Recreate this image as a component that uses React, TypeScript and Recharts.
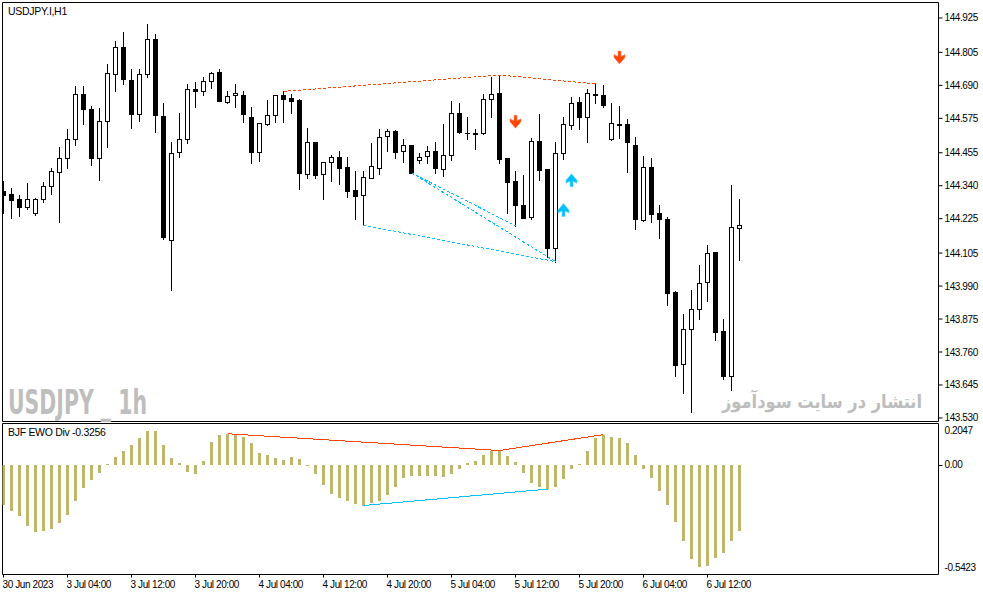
import React from 'react';
import { ComposedChart, Bar, Line, Scatter, XAxis, YAxis, ReferenceArea } from 'recharts';

// hourly bars, index 0 = 30 Jun 2023 20:00
const timeTicks = [0, 8, 16, 24, 32, 40, 48, 56, 64, 72, 80, 88];
const timeLabels = [
  '30 Jun 2023', '3 Jul 04:00', '3 Jul 12:00', '3 Jul 20:00', '4 Jul 04:00', '4 Jul 12:00',
  '4 Jul 20:00', '5 Jul 04:00', '5 Jul 12:00', '5 Jul 20:00', '6 Jul 04:00', '6 Jul 12:00',
];

const opens = [
  144.323, 144.311, 144.294, 144.267, 144.246, 144.294, 144.338, 144.388, 144.436, 144.502,
  144.659, 144.607, 144.436, 144.565, 144.729, 144.823, 144.709, 144.589, 144.729, 144.851,
  144.583, 144.150, 144.457, 144.502, 144.676, 144.671, 144.704, 144.736, 144.631, 144.655,
  144.655, 144.579, 144.457, 144.554, 144.586, 144.655, 144.646, 144.639, 144.382, 144.491,
  144.382, 144.422, 144.439, 144.404, 144.325, 144.309, 144.368, 144.403, 144.512, 144.530,
  144.460, 144.481, 144.429, 144.443, 144.460, 144.399, 144.446, 144.593, 144.524, 144.524,
  144.523, 144.641, 144.662, 144.436, 144.356, 144.273, 144.232, 144.495, 144.398, 144.124,
  144.453, 144.551, 144.631, 144.579, 144.659, 144.655, 144.502, 144.554, 144.554, 144.481,
  144.222, 144.404, 144.244, 144.225, 143.970, 143.717, 143.839, 143.909, 144.003, 144.108,
  143.833, 143.677, 144.192,
];
const highs = [
  144.357, 144.332, 144.307, 144.349, 144.296, 144.352, 144.402, 144.475, 144.538, 144.688,
  144.688, 144.619, 144.610, 144.764, 144.845, 144.877, 144.747, 144.747, 144.904, 144.869,
  144.627, 144.492, 144.594, 144.694, 144.702, 144.719, 144.738, 144.747, 144.670, 144.695,
  144.670, 144.613, 144.560, 144.639, 144.657, 144.669, 144.660, 144.641, 144.541, 144.493,
  144.424, 144.447, 144.461, 144.439, 144.391, 144.391, 144.489, 144.538, 144.538, 144.534,
  144.503, 144.483, 144.454, 144.479, 144.492, 144.555, 144.635, 144.628, 144.579, 144.538,
  144.660, 144.719, 144.726, 144.438, 144.391, 144.377, 144.505, 144.590, 144.400, 144.492,
  144.580, 144.649, 144.649, 144.677, 144.695, 144.691, 144.627, 144.617, 144.572, 144.509,
  144.444, 144.436, 144.272, 144.232, 143.972, 143.892, 143.975, 144.064, 144.133, 144.110,
  143.876, 144.341, 144.293,
];
const lows = [
  144.244, 144.228, 144.235, 144.258, 144.239, 144.282, 144.310, 144.215, 144.403, 144.483,
  144.554, 144.413, 144.361, 144.476, 144.671, 144.695, 144.540, 144.567, 144.718, 144.528,
  144.153, 143.977, 144.441, 144.490, 144.616, 144.655, 144.682, 144.635, 144.629, 144.616,
  144.563, 144.418, 144.427, 144.552, 144.563, 144.563, 144.595, 144.330, 144.368, 144.368,
  144.295, 144.358, 144.347, 144.302, 144.225, 144.202, 144.366, 144.382, 144.461, 144.438,
  144.424, 144.383, 144.420, 144.420, 144.385, 144.375, 144.431, 144.523, 144.504, 144.469,
  144.519, 144.581, 144.420, 144.246, 144.200, 144.226, 144.225, 144.361, 144.092, 144.075,
  144.434, 144.539, 144.539, 144.494, 144.630, 144.613, 144.500, 144.507, 144.389, 144.190,
  144.218, 144.215, 144.159, 143.923, 143.677, 143.618, 143.552, 143.874, 143.939, 143.802,
  143.667, 143.629, 144.081,
];
const closes = [
  144.307, 144.289, 144.267, 144.294, 144.294, 144.338, 144.391, 144.436, 144.502, 144.659,
  144.607, 144.436, 144.565, 144.732, 144.823, 144.711, 144.589, 144.729, 144.851, 144.587,
  144.162, 144.453, 144.502, 144.676, 144.669, 144.706, 144.732, 144.637, 144.653, 144.662,
  144.589, 144.457, 144.558, 144.586, 144.655, 144.643, 144.637, 144.385, 144.491, 144.378,
  144.422, 144.439, 144.403, 144.323, 144.305, 144.369, 144.408, 144.509, 144.530, 144.457,
  144.481, 144.385, 144.439, 144.460, 144.403, 144.446, 144.593, 144.526, 144.523, 144.519,
  144.641, 144.660, 144.432, 144.354, 144.274, 144.228, 144.495, 144.396, 144.124, 144.453,
  144.554, 144.627, 144.579, 144.662, 144.655, 144.621, 144.558, 144.553, 144.491, 144.225,
  144.404, 144.242, 144.225, 143.967, 143.715, 143.839, 143.909, 144.000, 144.104, 143.831,
  143.677, 144.195, 144.202,
];

// BJF EWO histogram
const ewo = [
  -0.199, -0.229, -0.255, -0.300, -0.333, -0.328, -0.315, -0.288, -0.250, -0.180,
  -0.115, -0.077, -0.041, 0.006, 0.038, 0.068, 0.098, 0.131, 0.170, 0.167,
  0.098, 0.032, 0.009, -0.036, -0.046, 0.018, 0.112, 0.147, 0.154, 0.150,
  0.140, 0.106, 0.060, 0.048, 0.032, 0.023, 0.037, 0.027, -0.006, -0.046,
  -0.100, -0.146, -0.166, -0.180, -0.196, -0.201, -0.191, -0.181, -0.150, -0.107,
  -0.066, -0.056, -0.056, -0.056, -0.056, -0.061, -0.046, -0.021, 0.008, 0.018,
  0.048, 0.071, 0.071, 0.042, 0.013, -0.041, -0.091, -0.110, -0.120, -0.110,
  -0.071, -0.021, 0.005, 0.068, 0.131, 0.150, 0.140, 0.131, 0.106, 0.048,
  -0.021, -0.066, -0.130, -0.199, -0.283, -0.377, -0.465, -0.506, -0.501, -0.462,
  -0.437, -0.377, -0.3256,
];

const priceTicks = [144.925, 144.805, 144.69, 144.575, 144.455, 144.34, 144.225, 144.105, 143.99, 143.875, 143.76, 143.645, 143.53];
const ewoTicks = [0.2047, 0, -0.5423];
const ewoTickLabels = ['0.2047', '0.00', '-0.5423'];

// divergence lines drawn by the indicator
const priceBearLine = [{ i: 35, v: 144.669 }, { i: 62, v: 144.726 }, { i: 74, v: 144.695 }];
const priceBullLineA = [{ i: 45, v: 144.202 }, { i: 69, v: 144.075 }];
const priceBullLineB = [{ i: 51, v: 144.385 }, { i: 64, v: 144.2 }];
const priceBullLineC = [{ i: 51, v: 144.385 }, { i: 69, v: 144.075 }];
const ewoBearLine = [{ i: 28, v: 0.154 }, { i: 62, v: 0.071 }, { i: 75, v: 0.15 }];
const ewoBullLine = [{ i: 45, v: -0.201 }, { i: 68, v: -0.12 }];

// signal arrows
const sellArrows = [{ i: 64, v: 144.563 }, { i: 77, v: 144.787 }];
const buyArrows = [{ i: 70, v: 144.255 }, { i: 71, v: 144.359 }];

const candles = opens.map((o, i) => ({
  i, o, h: highs[i], l: lows[i], c: closes[i], range: [lows[i], highs[i]],
}));
const ewoData = ewo.map((v, i) => ({ i, v }));

const X_DOMAIN: [number, number] = [-0.125, 116.875];
const PRICE_DOMAIN: [number, number] = [143.5176, 144.979];
const EWO_DOMAIN: [number, number] = [-0.5423, 0.2047];

const FONT = "'Liberation Sans', Arial, sans-serif";
const RED = '#FF4500';
const BLUE = '#00BFFF';

function Candle(props: any) {
  let { x, y, width, height, payload } = props;
  if (!payload || height == null) return null;
  if (height < 0) { y += height; height = -height; }
  const { o, h, l, c } = payload;
  const k = height / (h - l);
  const py = (p: number) => Math.round(y + (h - p) * k);
  const col = Math.floor(x + width / 2);
  const top = py(Math.max(o, c));
  const bot = py(Math.min(o, c));
  const bull = c > o;
  return (
    <g shapeRendering="crispEdges">
      <line x1={col + 0.5} x2={col + 0.5} y1={py(h)} y2={py(l) + 1} stroke="#000" />
      {bot - top < 1 ? (
        <line x1={col - 2} x2={col + 3} y1={top + 0.5} y2={top + 0.5} stroke="#000" />
      ) : (
        <rect x={col - 1.5} y={top + 0.5} width={4} height={bot - top} fill={bull ? '#fff' : '#000'} stroke="#000" />
      )}
    </g>
  );
}

function EwoBar(props: any) {
  let { x, y, width, height } = props;
  if (height == null) return null;
  if (height < 0) { y += height; height = -height; }
  const col = Math.floor(x + width / 2);
  const t = Math.round(y);
  const b = Math.round(y + height);
  return <rect x={col - 1} y={t} width={3} height={Math.max(b - t, 1)} fill="#BDB76B" shapeRendering="crispEdges" />;
}

function DownArrow(props: any) {
  const { cx, cy } = props;
  const d = `M${cx - 1.5} ${cy - 6.5} L${cx + 1.5} ${cy - 6.5} L${cx + 1.5} ${cy - 1} L${cx + 5.5} ${cy - 3} L${cx + 5.5} ${cy} L${cx} ${cy + 6.5} L${cx - 5.5} ${cy} L${cx - 5.5} ${cy - 3} L${cx - 1.5} ${cy - 1} Z`;
  return <path d={d} fill={RED} stroke="#FF8A70" strokeWidth={0.6} />;
}

function UpArrow(props: any) {
  const { cx, cy } = props;
  const d = `M${cx - 1.5} ${cy + 6.5} L${cx + 1.5} ${cy + 6.5} L${cx + 1.5} ${cy + 1} L${cx + 5.5} ${cy + 3} L${cx + 5.5} ${cy} L${cx} ${cy - 6.5} L${cx - 5.5} ${cy} L${cx - 5.5} ${cy + 3} L${cx - 1.5} ${cy + 1} Z`;
  return <path d={d} fill={BLUE} stroke="#70D8FF" strokeWidth={0.6} />;
}

function PriceTick(props: any) {
  const { x, y, payload } = props;
  return (
    <text x={x} y={y} dy={3.5} fontSize={10} fontFamily={FONT} letterSpacing={-0.4} fill="#000">
      {payload.value.toFixed(3)}
    </text>
  );
}

function EwoTick(props: any) {
  const { x, y, payload, index } = props;
  const shift = payload.value > 0 ? 7 : payload.value < 0 ? -7 : 0;
  return (
    <g>
      {payload.value === 0 && <line x1={x - 6} x2={x - 2} y1={Math.round(y) + 0.5} y2={Math.round(y) + 0.5} stroke="#000" />}
      <text x={x} y={y + shift} dy={3.5} fontSize={10} fontFamily={FONT} letterSpacing={-0.4} fill="#000">
        {ewoTickLabels[index] ?? String(payload.value)}
      </text>
    </g>
  );
}

function TimeTick(props: any) {
  const { x, y, payload } = props;
  const k = timeTicks.indexOf(payload.value);
  return (
    <text x={x - 1} y={y} dy={8} fontSize={10} fontFamily={FONT} letterSpacing={-0.4} fill="#000">
      {timeLabels[k]}
    </text>
  );
}

const layer: React.CSSProperties = { position: 'absolute', left: 0, top: 0 };

export default function App() {
  return (
    <div style={{ position: 'fixed', left: 0, top: 0, width: 983, height: 595, background: '#fff', overflow: 'hidden' }}>
      <div style={layer}>
        <ComposedChart width={983} height={595} data={candles} margin={{ top: 2.5, right: 0, bottom: 173.5, left: 2.5 }}>
          <XAxis type="number" dataKey="i" domain={X_DOMAIN} allowDataOverflow hide />
          <YAxis
            orientation="right" type="number" domain={PRICE_DOMAIN} allowDataOverflow width={44.5}
            ticks={priceTicks} interval={0} axisLine={false} tickSize={4} tickMargin={2}
            tickLine={{ stroke: '#000' }} tick={<PriceTick />}
          />
          <ReferenceArea x1={X_DOMAIN[0]} x2={X_DOMAIN[1]} y1={PRICE_DOMAIN[0]} y2={PRICE_DOMAIN[1]} fill="#fff" fillOpacity={0} stroke="#000" strokeWidth={1} ifOverflow="visible" />
          <Bar dataKey="range" barSize={5} shape={<Candle />} isAnimationActive={false} />
          <Line data={priceBearLine} dataKey="v" stroke={RED} strokeDasharray="3 2" shapeRendering="crispEdges" dot={false} activeDot={false} isAnimationActive={false} />
          <Line data={priceBullLineA} dataKey="v" stroke={BLUE} strokeDasharray="3 2" shapeRendering="crispEdges" dot={false} activeDot={false} isAnimationActive={false} />
          <Line data={priceBullLineB} dataKey="v" stroke={BLUE} strokeDasharray="3 2" shapeRendering="crispEdges" dot={false} activeDot={false} isAnimationActive={false} />
          <Line data={priceBullLineC} dataKey="v" stroke={BLUE} strokeDasharray="3 2" shapeRendering="crispEdges" dot={false} activeDot={false} isAnimationActive={false} />
          <Scatter data={sellArrows} dataKey="v" shape={<DownArrow />} isAnimationActive={false} />
          <Scatter data={buyArrows} dataKey="v" shape={<UpArrow />} isAnimationActive={false} />
        </ComposedChart>
      </div>
      <div style={layer}>
        <ComposedChart width={983} height={595} data={ewoData} margin={{ top: 423.5, right: 0, bottom: 0, left: 2.5 }}>
          <XAxis
            type="number" dataKey="i" domain={X_DOMAIN} allowDataOverflow height={20.5}
            ticks={timeTicks} interval={0} axisLine={false} tickSize={3} tickMargin={2}
            tickLine={{ stroke: '#000' }} tick={<TimeTick />}
          />
          <YAxis
            orientation="right" type="number" domain={EWO_DOMAIN} allowDataOverflow width={44.5}
            ticks={ewoTicks} interval={0} axisLine={false} tickLine={false} tickSize={4} tickMargin={2}
            tick={<EwoTick />}
          />
          <ReferenceArea x1={X_DOMAIN[0]} x2={X_DOMAIN[1]} y1={EWO_DOMAIN[0]} y2={EWO_DOMAIN[1]} fill="#fff" fillOpacity={0} stroke="#000" strokeWidth={1} ifOverflow="visible" />
          <Bar dataKey="v" barSize={3} shape={<EwoBar />} isAnimationActive={false} />
          <Line data={ewoBearLine} dataKey="v" stroke={RED} strokeWidth={1} shapeRendering="crispEdges" dot={false} activeDot={false} isAnimationActive={false} />
          <Line data={ewoBullLine} dataKey="v" stroke={BLUE} strokeWidth={1} shapeRendering="crispEdges" dot={false} activeDot={false} isAnimationActive={false} />
        </ComposedChart>
      </div>
      <svg width={983} height={595} style={{ ...layer, pointerEvents: 'none' }}>
        <text x={8} y={15} fontSize={10.5} fontFamily={FONT} letterSpacing={-0.3} fill="#000">USDJPY.I,H1</text>
        <text x={8} y={436} fontSize={10.5} fontFamily={FONT} letterSpacing={-0.3} fill="#000">BJF EWO Div -0.3256</text>
        <text x={8} y={414} fontSize={34} fontWeight="bold" fontFamily="'DejaVu Sans', sans-serif" fill="#BEBEBE" textLength={139} lengthAdjust="spacingAndGlyphs">USDJPY _ 1h</text>
        <text x={822} y={408} fontSize={19} fontWeight="bold" fontFamily="'DejaVu Sans', sans-serif" fill="#BDBDBD" textAnchor="middle" textLength={200} lengthAdjust="spacingAndGlyphs">انتشار در سایت سودآموز</text>
      </svg>
    </div>
  );
}
